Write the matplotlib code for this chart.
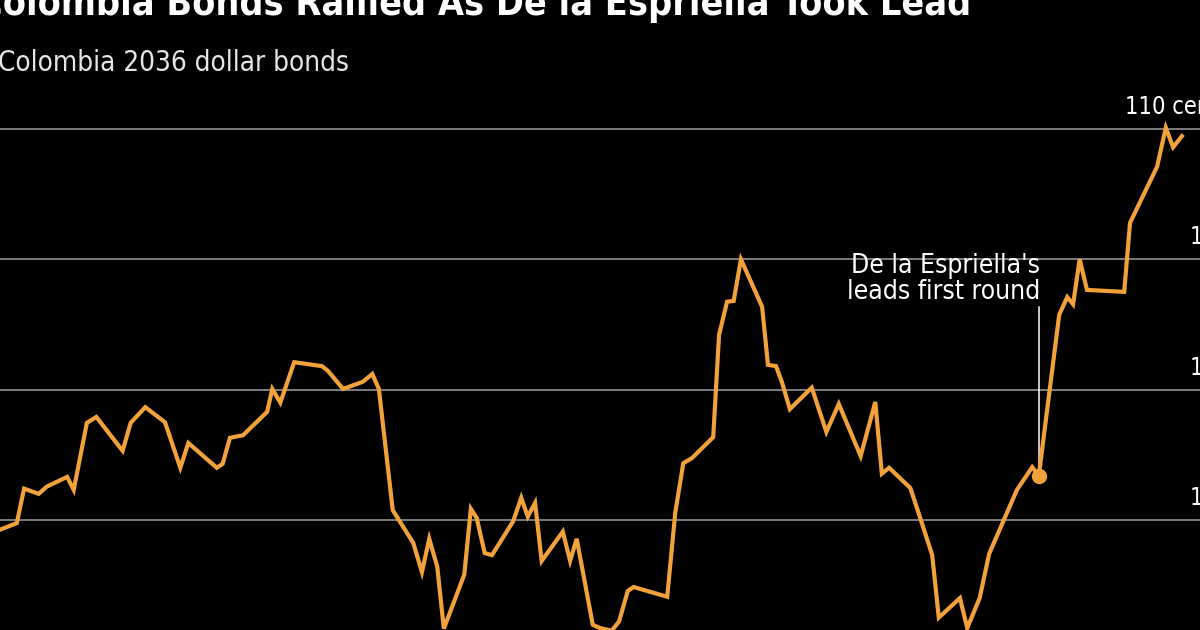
import matplotlib
matplotlib.use('Agg')
import matplotlib.pyplot as plt

# jour de cotation et prix en cents
jours = [0.0, 2.3, 3.3, 5.3, 6.4, 9.2, 10.1, 11.9, 13.2, 16.8, 17.9, 19.9, 22.6, 24.7,
         25.8, 29.7, 30.5, 31.5, 33.3, 36.6, 37.3, 38.4, 40.3, 44.1, 44.9, 47.0, 49.7,
         51.0, 51.9, 53.8, 54.8, 56.6, 57.8, 58.8, 59.9, 60.8, 63.6, 64.5, 65.3, 66.4,
         67.4, 70.3, 71.4, 72.3, 73.3, 74.2, 77.1, 78.1, 79.0, 81.2, 82.2, 83.8, 84.8,
         86.0, 86.8, 91.4, 92.5, 93.6, 94.8, 97.7, 98.5, 99.6, 100.5, 101.5, 104.4,
         105.2, 106.3, 107.1, 108.2, 111.2, 113.2, 114.9, 117.9, 119.9, 120.8, 121.8,
         124.7, 126.0, 127.7, 128.6, 131.5, 132.5, 134.2, 135.5, 139.3, 141.4, 142.3,
         145.1, 146.2, 147.0, 147.9, 148.9, 154.0, 154.8, 158.5, 159.7, 160.7, 161.9]
prix = [103.85, 103.95, 104.48, 104.40, 104.51, 104.66, 104.46, 105.49, 105.58, 105.06,
        105.49, 105.73, 105.50, 104.80, 105.18, 104.80, 104.86, 105.26, 105.30, 105.66,
        106.01, 105.80, 106.42, 106.36, 106.29, 106.01, 106.12, 106.24, 106.01, 104.15,
        103.97, 103.65, 103.20, 103.71, 103.28, 102.33, 103.16, 104.17, 104.03, 103.49,
        103.46, 103.98, 104.34, 104.05, 104.26, 103.37, 103.82, 103.37, 103.71, 102.39,
        102.34, 102.30, 102.44, 102.91, 102.97, 102.82, 104.11, 104.87, 104.95, 105.27,
        106.84, 107.35, 107.36, 108.00, 107.27, 106.38, 106.36, 106.12, 105.70, 106.03,
        105.35, 105.78, 104.98, 105.81, 104.71, 104.80, 104.49, 104.05, 103.46, 102.50,
        102.80, 102.34, 102.80, 103.48, 104.46, 104.81, 104.68, 107.15, 107.42, 107.31,
        108.00, 107.53, 107.50, 108.56, 109.42, 110.02, 109.72, 109.89]

niveaux = [104, 106, 108, 110]
etiquettes = ['104', '106', '108', '110 cents']

jour_evenement = 142.3
prix_evenement = 104.68
texte_evenement = "De la Espriella's\nleads first round"

titre = "Colombia Bonds Rallied As De la Espriella Took Lead"
sous_titre = "Colombia 2036 dollar bonds"

police = dict(family='DejaVu Sans', stretch='condensed')
orange = '#F2A23A'

fig = plt.figure(figsize=(12, 6.3), dpi=100, facecolor='black')
ax = fig.add_axes([0, 0, 1, 1], facecolor='black')
ax.set_xlim(0, 1200 / 7.3)
ax.set_ylim(102.31, 111.98)
ax.axis('off')

# lignes horizontales et étiquettes à droite (coupées par le cadre)
for niv, etq in zip(niveaux, etiquettes):
    ax.axhline(niv, color='#7d7d7d', lw=1.4, zorder=1)
    ax.text(1.025, niv + 0.23, etq, transform=ax.get_yaxis_transform(),
            ha='right', va='baseline', color='white', fontsize=17,
            clip_on=False, **police)

ax.plot(jours, prix, color=orange, lw=3, solid_joinstyle='miter', zorder=3)

# annotation
ax.plot([jour_evenement, jour_evenement], [prix_evenement, 107.27],
        color='white', lw=1.1, zorder=2)
ax.plot(jour_evenement, prix_evenement, 'o', color=orange, ms=10, zorder=4)
ax.text(jour_evenement + 0.2, 107.3, texte_evenement, ha='right', va='bottom',
        color='white', fontsize=19, linespacing=1.0, **police)

# titre et sous-titre, coupés en haut et à gauche
fig.text(-0.018, 1 - 15 / 630, titre, ha='left', va='baseline', color='white',
         fontsize=27, fontweight='bold', **police)
fig.text(-0.002, 1 - 71 / 630, sous_titre, ha='left', va='baseline',
         color='#e6e6e6', fontsize=20, **police)

fig.savefig('out.png', dpi=100, facecolor='black')
